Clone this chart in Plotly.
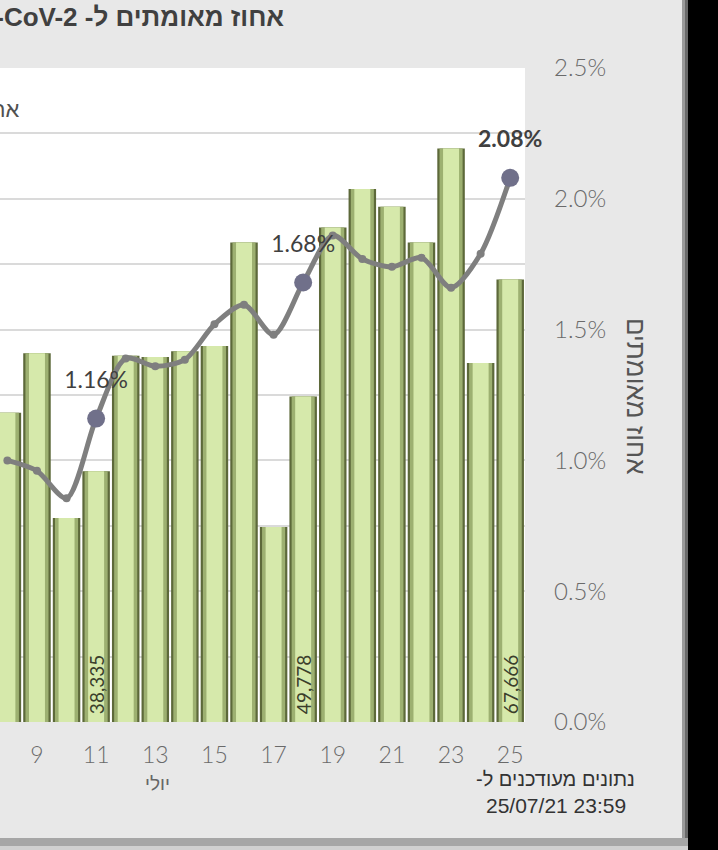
import plotly.graph_objects as go

# ---- data ----
days = [8, 9, 10, 11, 12, 13, 14, 15, 16, 17, 18, 19, 20, 21, 22, 23, 24, 25]
tests = [47300, 56400, 31200, 38335, 56000, 55800, 56700, 57500, 73300, 29800,
         49778, 75600, 81500, 78800, 73300, 87700, 54900, 67666]
pos_rate = [0.0100, 0.0096, 0.00855, 0.0116, 0.0139, 0.0136, 0.01385, 0.0152,
            0.01595, 0.0148, 0.0168, 0.0186, 0.0177, 0.0174, 0.01775, 0.0166,
            0.0179, 0.0208]
labeled_days = [11, 18, 25]
x_ticks = [9, 11, 13, 15, 17, 19, 21, 23, 25]

title_text = "\u202bאחוז מאומתים ל- SARS-CoV-2\u202c"
legend_text = "אחוז מאומתים"
y2_title = "אחוז מאומתים"
month_label = "יולי"
updated_1 = "\u202bנתונים מעודכנים ל-\u202c"
updated_2 = "25/07/21 23:59"

# ---- geometry helpers (pixels -> paper) ----
W, H = 718, 850
L, R, T, B = 0, 193, 68, 128
PW, PH = W - L - R, H - T - B


def px(x):
    return (x - L) / PW


def py(y):
    return (H - B - y) / PH


bar_text = ["\u00a0" + f"{v:,}" if d in labeled_days else "" for d, v in zip(days, tests)]
lab_x = [d for d in days if d in labeled_days]
lab_y = [p for d, p in zip(days, pos_rate) if d in labeled_days]
lab_text = [f"<b>{p*100:.2f}%</b>" if d == 25 else f"{p*100:.2f}%" for d, p in zip(lab_x, lab_y)]

fig = go.Figure()
# layered bars to mimic the bevelled look
fig.add_trace(go.Bar(x=days, y=tests, width=0.93, marker=dict(color="#5d693a", line=dict(width=0)),
                     hoverinfo="skip", showlegend=False))
fig.add_trace(go.Bar(x=days, y=tests, width=0.78, marker=dict(color="#9db071", line=dict(width=0)),
                     hoverinfo="skip", showlegend=False))
fig.add_trace(go.Bar(x=days, y=tests, width=0.54, marker=dict(color="#d6e9ab", line=dict(width=0)),
                     text=bar_text, textposition="inside", insidetextanchor="start",
                     textangle=-90, textfont=dict(family="Lato, DejaVu Sans", size=19, color="#3b3f2c"),
                     showlegend=False))
# positive-rate line
fig.add_trace(go.Scatter(x=days, y=pos_rate, yaxis="y2", mode="lines+markers",
                         line=dict(color="#7f7f7f", width=5, shape="spline", smoothing=0.8),
                         marker=dict(size=8, color="#7f7f7f"),
                         cliponaxis=False, showlegend=False))
# highlighted points with their labels
fig.add_trace(go.Scatter(x=lab_x, y=lab_y, yaxis="y2", mode="markers",
                         marker=dict(size=18, color="#70708a"),
                         cliponaxis=False, showlegend=False))
fig.add_trace(go.Scatter(x=lab_x, y=lab_y, yaxis="y2", mode="markers+text",
                         marker=dict(size=38, color="rgba(0,0,0,0)"),
                         text=lab_text, textposition="top center",
                         textfont=dict(family="Lato, Open Sans", size=23, color="#404040"),
                         cliponaxis=False, showlegend=False))

fig.update_layout(
    width=W, height=H,
    margin=dict(l=L, r=R, t=T, b=B, autoexpand=False),
    paper_bgcolor="#e8e8e8", plot_bgcolor="#ffffff",
    barmode="overlay", bargap=0.05,
    uniformtext=dict(mode="show", minsize=19),
    showlegend=False,
    xaxis=dict(range=[7.75, 25.5], tickmode="array", tickvals=x_ticks,
               ticktext=[str(t) for t in x_ticks], showgrid=False, zeroline=False,
               ticks="", ticklabelstandoff=17,
               tickfont=dict(family="Lato", size=23, color="#6a6a6a", weight=300),
               showline=False),
    yaxis=dict(range=[0, 100000], dtick=10000, showticklabels=False,
               gridcolor="#dadada", gridwidth=2, zeroline=False, fixedrange=True),
    yaxis2=dict(overlaying="y", side="right", range=[0, 0.025], dtick=0.005,
                tickformat=".1%", showgrid=False, zeroline=False, ticks="",
                ticklabelstandoff=28,
                tickfont=dict(family="Lato", size=24, color="#6a6a6a", weight=300)),
)

ann = [
    dict(text=title_text, x=px(286), y=py(17), xanchor="right", yanchor="middle",
         font=dict(family="Liberation Sans", size=26, color="#404040", weight="bold")),
    dict(text=legend_text, x=px(22), y=py(110), xanchor="right", yanchor="middle",
         font=dict(family="Liberation Sans", size=22, color="#505050")),
    dict(text=y2_title, x=px(636), y=py(396), xanchor="center", yanchor="middle", textangle=90,
         font=dict(family="Liberation Sans", size=26, color="#555555")),
    dict(text=month_label, x=px(157), y=py(783), xanchor="center", yanchor="middle",
         font=dict(family="Liberation Sans", size=19, color="#666666")),
    dict(text=updated_1, x=px(637), y=py(779), xanchor="right", yanchor="middle",
         font=dict(family="Liberation Sans", size=20, color="#333333")),
    dict(text=updated_2, x=px(628), y=py(805), xanchor="right", yanchor="middle",
         font=dict(family="Liberation Sans", size=21, color="#333333")),
]
for a in ann:
    a.update(xref="paper", yref="paper", showarrow=False)
fig.update_layout(annotations=ann)

shapes = [
    # dark frame at the right and black area beyond
    dict(type="rect", x0=px(688), x1=px(740), y0=py(-10), y1=py(860),
         fillcolor="#000000", line=dict(width=0)),
    dict(type="rect", x0=px(682), x1=px(688), y0=py(0), y1=py(846),
         fillcolor="#9a9a9a", line=dict(width=0)),
    dict(type="rect", x0=px(685), x1=px(688), y0=py(0), y1=py(846),
         fillcolor="#6a6a6a", line=dict(width=0)),
    # bottom frame
    dict(type="rect", x0=px(-5), x1=px(688), y0=py(846), y1=py(838),
         fillcolor="#a6a6a6", line=dict(width=0)),
    dict(type="rect", x0=px(-5), x1=px(688), y0=py(852), y1=py(846),
         fillcolor="#d0d0d0", line=dict(width=0)),
]
for s in shapes:
    s.update(xref="paper", yref="paper", layer="above")
fig.update_layout(shapes=shapes)

fig.write_html("out.html", config={"displayModeBar": False},
               post_script="document.body.style.margin='0px';document.body.style.overflow='hidden';")
